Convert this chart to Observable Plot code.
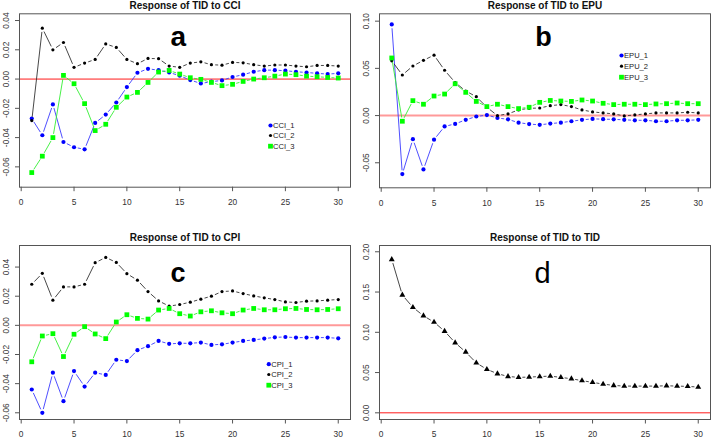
<!DOCTYPE html>
<html>
<head>
<meta charset="utf-8">
<script src="https://cdn.jsdelivr.net/npm/d3@7"></script>
<script src="https://cdn.jsdelivr.net/npm/@observablehq/plot@0.6"></script>
<style>
  html, body { margin: 0; padding: 0; background: #fff; }
  #wrap { position: relative; width: 711px; height: 438px; overflow: hidden; background: #fff; }
  #wrap > div { position: absolute; }
  svg { font-family: "Liberation Sans", Arial, sans-serif; }
</style>
</head>
<body>
<div id="wrap"></div>
<script>
// ---------- data ----------
const periods = d3.range(1, 31);

const cci1 = [-0.027,-0.0384,-0.0173,-0.043,-0.0466,-0.048,-0.030,-0.0243,-0.016,-0.0055,0.0043,0.007,0.0061,0.0045,0.0023,-0.0007,-0.003,-0.0018,-0.0009,0.0014,0.003,0.005,0.0061,0.0061,0.0057,0.005,0.0045,0.0039,0.0034,0.0039];
const cci2 = [-0.0284,0.0348,0.020,0.025,0.008,0.0109,0.0134,0.024,0.0216,0.0134,0.0105,0.0141,0.0139,0.0089,0.008,0.0109,0.0118,0.0098,0.0095,0.0114,0.0111,0.0098,0.0089,0.0096,0.0096,0.0089,0.0084,0.0093,0.0093,0.0089];
const cci3 = [-0.0639,-0.0527,-0.040,0.0025,-0.0032,-0.0168,-0.0352,-0.0309,-0.0193,-0.0123,-0.0091,-0.0023,0.0048,0.0059,0.0034,0.0009,-0.0002,-0.0023,-0.0045,-0.0036,-0.0016,0.0,0.0009,0.002,0.0034,0.003,0.002,0.0016,0.0011,0.0007];

const epu1 = [0.0965,-0.062,-0.025,-0.057,-0.0255,-0.0115,-0.0088,-0.0045,-0.001,0.0005,-0.0025,-0.004,-0.0075,-0.009,-0.0098,-0.0085,-0.0075,-0.006,-0.0045,-0.0035,-0.0038,-0.004,-0.0045,-0.005,-0.005,-0.006,-0.006,-0.005,-0.005,-0.0045];
const epu2 = [0.058,0.043,0.0525,0.0585,0.064,0.048,0.035,0.026,0.020,0.0088,0.0,0.0018,0.006,0.0077,0.008,0.0105,0.0116,0.0095,0.006,0.0039,0.0028,0.0018,-0.0004,0.0007,0.0018,0.0028,0.0028,0.0028,0.0035,0.0028];
const epu3 = [0.061,-0.006,0.0158,0.012,0.0207,0.0228,0.0337,0.0246,0.015,0.0095,0.012,0.0095,0.0074,0.0088,0.014,0.016,0.0154,0.015,0.0165,0.0154,0.013,0.0116,0.012,0.012,0.0116,0.0123,0.0126,0.0133,0.0126,0.0126];

const cpi1 = [-0.044,-0.060,-0.0325,-0.052,-0.0314,-0.042,-0.0325,-0.034,-0.0236,-0.0245,-0.017,-0.0143,-0.0107,-0.0127,-0.0123,-0.0123,-0.0118,-0.0134,-0.013,-0.0118,-0.0107,-0.010,-0.0091,-0.0082,-0.008,-0.0084,-0.0084,-0.0084,-0.0084,-0.0089];
const cpi2 = [0.0282,0.0357,0.0173,0.0264,0.0264,0.0282,0.043,0.0466,0.0432,0.0355,0.031,0.0232,0.0168,0.0132,0.0143,0.0159,0.018,0.020,0.0232,0.0236,0.0218,0.0202,0.0189,0.0177,0.0161,0.0157,0.0166,0.0168,0.0173,0.0177];
const cpi3 = [-0.025,-0.0073,-0.0057,-0.0214,-0.0061,-0.0009,-0.0059,-0.0091,0.0023,0.0073,0.0048,0.0043,0.0105,0.0116,0.008,0.0064,0.0093,0.010,0.0086,0.008,0.0105,0.0116,0.0107,0.0107,0.0114,0.0116,0.0109,0.0107,0.0109,0.0114];

const tid = [0.1905,0.1463,0.131,0.1205,0.1126,0.1014,0.087,0.0755,0.062,0.054,0.0486,0.0452,0.044,0.0444,0.045,0.0456,0.044,0.0423,0.040,0.0378,0.0357,0.034,0.0332,0.0332,0.0332,0.0332,0.0336,0.0332,0.0328,0.032];

const xTicks = [0, 5, 10, 15, 20, 25, 30];
const yTicksA = [-0.06, -0.04, -0.02, 0, 0.02, 0.04];
const yTicksB = [-0.05, 0, 0.05, 0.10];
const yTicksC = [-0.06, -0.04, -0.02, 0, 0.02, 0.04];
const yTicksD = [0, 0.05, 0.10, 0.15, 0.20];

const titles = ["Response of TID to CCI", "Response of TID to EPU", "Response of TID to CPI", "Response of TID to TID"];
const letters = ["a", "b", "c", "d"];
const namesA = ["CCI_1", "CCI_2", "CCI_3"];
const namesB = ["EPU_1", "EPU_2", "EPU_3"];
const namesC = ["CPI_1", "CPI_2", "CPI_3"];

// ---------- styles ----------
const seriesStyle = [
  {color: "#0000ff", lineColor: "#3b3bff", symbol: "circle", r: 2.1},
  {color: "#000000", lineColor: "#333333", symbol: "circle", r: 1.6},
  {color: "#00ff00", lineColor: "#33ee33", symbol: "square", r: 2.7}
];
const triStyle = {color: "#000000", lineColor: "#333333", symbol: "triangle", r: 2.2};

function seriesMarks(values, st) {
  const pts = values.map((v, i) => ({x: periods[i], y: v}));
  const segs = pts.slice(0, -1).map((p, i) => ({x1: p.x, y1: p.y, x2: pts[i + 1].x, y2: pts[i + 1].y}));
  return [
    Plot.arrow(segs, {x1: "x1", y1: "y1", x2: "x2", y2: "y2", headLength: 0, insetStart: 3.8, insetEnd: 3.8,
      stroke: st.lineColor, strokeWidth: 0.9, strokeLinecap: "butt"}),
    Plot.dot(pts, {x: "x", y: "y", symbol: st.symbol, r: st.r, fill: st.color, stroke: "none"})
  ];
}

function legendMarks(names, styles, lx, ly) {
  const marks = [];
  names.forEach((n, i) => {
    const st = styles[i];
    marks.push(Plot.dot([n], {frameAnchor: "top-left", dx: lx, dy: ly[i], symbol: st.symbol, r: st.r, fill: st.color, stroke: "none"}));
    marks.push(Plot.text([n], {frameAnchor: "top-left", dx: lx + 2.5, dy: ly[i], text: d => d, textAnchor: "start",
      lineAnchor: "middle", fontSize: 7.6, fill: "#222"}));
  });
  return marks;
}

function panel(cfg) {
  const marks = [
    Plot.ruleY([0], {stroke: cfg.ruleColor, strokeWidth: cfg.ruleWidth, strokeOpacity: cfg.ruleOpacity}),
    ...cfg.series.flatMap(([vals, st]) => seriesMarks(vals, st)),
    Plot.frame({stroke: "#555", strokeWidth: 1}),
    Plot.axisX({ticks: xTicks, tickSize: 4.5, tickPadding: 7.5, tickFormat: d => String(d), fontSize: 8.4,
      color: "#333", stroke: "#555", label: null}),
    Plot.axisY({ticks: cfg.yTicks, tickSize: 4, tickFormat: () => "", stroke: "#555", label: null}),
    Plot.text(cfg.yTicks, {frameAnchor: "left", y: d => d, text: d => d.toFixed(2), rotate: -90, dx: -13.5,
      textAnchor: "middle", lineAnchor: "middle", fontSize: 8.4, fill: "#333"}),
    Plot.text([cfg.title], {frameAnchor: "top", dy: -5, text: d => d, lineAnchor: "bottom", fontWeight: "bold",
      fontSize: 10, fill: "#111"}),
    Plot.text([cfg.letter], {frameAnchor: "top", dx: cfg.letterDx, dy: cfg.letterDy, text: d => d, lineAnchor: "bottom",
      fontSize: cfg.letterSize, fontWeight: cfg.letterWeight, fill: "#000"}),
    ...(cfg.legend ? legendMarks(cfg.legend.names, cfg.legend.styles, cfg.legend.x, cfg.legend.y) : [])
  ];
  return Plot.plot({
    width: cfg.width, height: 219,
    marginLeft: cfg.ml, marginRight: cfg.mr, marginTop: cfg.mt, marginBottom: cfg.mb,
    x: {domain: [-0.16, 31.16], axis: null},
    y: {domain: cfg.yDomain, axis: null},
    style: {background: "transparent", fontFamily: "'Liberation Sans', Arial, sans-serif", overflow: "visible"},
    marks
  });
}

const configs = [
  {left: 0, top: 0, width: 355, ml: 19, mr: 5, mt: 13.3, mb: 32.3, yDomain: [-0.0739, 0.0446], yTicks: yTicksA,
   title: titles[0], letter: letters[0], letterDx: -6.7, letterDy: 31.7, letterSize: 28, letterWeight: "bold",
   ruleColor: "#ff0000", ruleWidth: 1, ruleOpacity: 0.9,
   series: [[cci1, seriesStyle[0]], [cci2, seriesStyle[1]], [cci3, seriesStyle[2]]],
   legend: {names: namesA, styles: seriesStyle, x: 251, y: [111.7, 121.7, 132.4]}},
  {left: 355, top: 0, width: 356, ml: 24, mr: 1, mt: 13.3, mb: 31.7, yDomain: [-0.0765, 0.1078], yTicks: yTicksB,
   title: titles[1], letter: letters[1], letterDx: -1.5, letterDy: 31.7, letterSize: 27, letterWeight: "bold",
   ruleColor: "#ff0000", ruleWidth: 2, ruleOpacity: 0.4,
   series: [[epu1, seriesStyle[0]], [epu2, seriesStyle[1]], [epu3, seriesStyle[2]]],
   legend: {names: namesB, styles: seriesStyle, x: 242, y: [41.7, 52.4, 63.4]}},
  {left: 0, top: 219, width: 355, ml: 19, mr: 5, mt: 26, mb: 19, yDomain: [-0.0646, 0.0548], yTicks: yTicksC,
   title: titles[2], letter: letters[2], letterDx: -7, letterDy: 36.3, letterSize: 27, letterWeight: "bold",
   ruleColor: "#ff0000", ruleWidth: 2, ruleOpacity: 0.4,
   series: [[cpi1, seriesStyle[0]], [cpi2, seriesStyle[1]], [cpi3, seriesStyle[2]]],
   legend: {names: namesC, styles: seriesStyle, x: 249.3, y: [118.7, 129, 139.7]}},
  {left: 355, top: 219, width: 356, ml: 24, mr: 1, mt: 26, mb: 19, yDomain: [-0.0083, 0.2078], yTicks: yTicksD,
   title: titles[3], letter: letters[3], letterDx: -2.5, letterDy: 37, letterSize: 29, letterWeight: "normal",
   ruleColor: "#ff0000", ruleWidth: 1, ruleOpacity: 0.9,
   series: [[tid, triStyle]], legend: null}
];

const wrap = document.getElementById("wrap");
for (const cfg of configs) {
  const holder = document.createElement("div");
  holder.style.left = cfg.left + "px";
  holder.style.top = cfg.top + "px";
  holder.appendChild(panel(cfg));
  wrap.appendChild(holder);
}
</script>
</body>
</html>
